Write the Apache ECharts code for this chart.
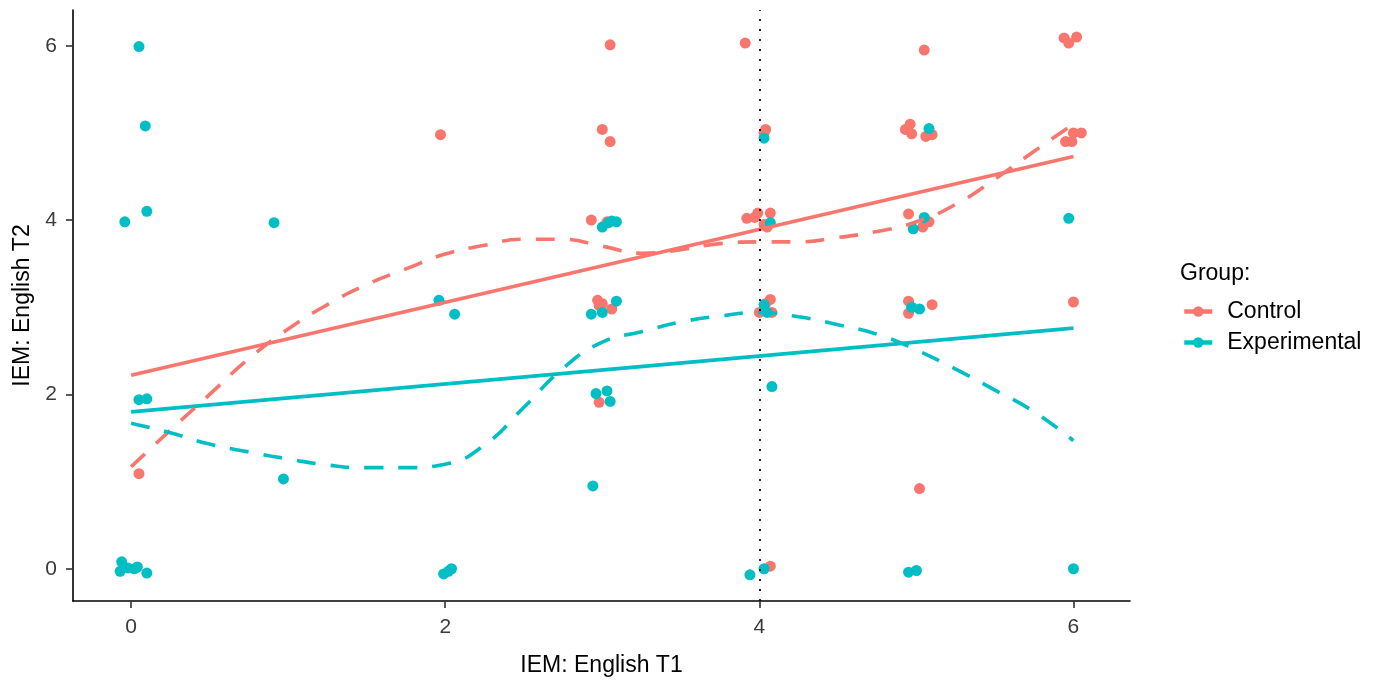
<!DOCTYPE html>
<html><head><meta charset="utf-8">
<script src="https://cdn.jsdelivr.net/npm/echarts@6/dist/echarts.min.js"></script>
<style>html,body{margin:0;padding:0;background:#fff}#chart{width:1376px;height:683px}</style>
</head><body><div id="chart"></div>
<script>
const groups = ['Control', 'Experimental'];
const groupColors = ['#F8766D', '#00BFC4'];
const xTicks = [0, 2, 4, 6];
const yTicks = [0, 2, 4, 6];
const xTitle = 'IEM: English T1';
const yTitle = 'IEM: English T2';
const legendTitle = 'Group:';
const referenceX = 4;

const controlPoints = [
  [0.05, 1.09], [1.97, 4.98], [3.05, 6.01], [3.00, 5.04], [3.05, 4.90],
  [2.93, 4.00], [3.03, 3.98], [2.97, 3.08], [3.00, 3.04], [3.06, 2.98],
  [2.98, 3.02], [2.98, 1.91], [3.91, 6.03], [4.04, 5.04], [4.03, 5.00],
  [3.92, 4.02], [3.99, 4.08], [4.07, 4.08], [4.03, 3.95], [4.05, 3.92],
  [3.97, 4.03], [4.07, 3.09], [4.04, 3.04], [4.00, 2.94], [4.08, 2.94],
  [4.07, 0.03], [5.05, 5.95], [4.93, 5.04], [4.96, 5.10], [4.97, 4.99],
  [5.06, 4.96], [5.10, 4.98], [4.95, 4.07], [5.08, 3.98], [5.04, 3.92],
  [4.95, 3.07], [4.95, 2.93], [5.10, 3.03], [5.02, 0.92], [5.94, 6.09],
  [5.97, 6.03], [6.02, 6.10], [5.95, 4.90], [5.99, 4.90], [6.00, 5.00],
  [6.05, 5.00], [6.00, 3.06]
];
const experimentalPoints = [
  [0.05, 5.99], [0.09, 5.08], [0.10, 4.10], [-0.04, 3.98], [0.91, 3.97],
  [0.05, 1.94], [0.10, 1.95], [0.97, 1.03], [-0.06, 0.08], [-0.07, -0.03],
  [-0.02, 0.01], [0.04, 0.02], [0.10, -0.05], [0.02, 0.00], [1.96, 3.08],
  [2.06, 2.92], [1.99, -0.06], [2.02, -0.03], [2.04, 0.00], [2.94, 0.95],
  [3.00, 3.92], [3.04, 3.97], [3.06, 3.99], [3.09, 3.98], [3.09, 3.07],
  [2.93, 2.92], [3.00, 2.94], [2.96, 2.01], [3.03, 2.04], [3.05, 1.92],
  [4.03, 4.94], [4.07, 3.97], [4.03, 3.03], [4.05, 2.94], [4.08, 2.09],
  [3.94, -0.07], [4.03, 0.00], [5.08, 5.05], [5.05, 4.03], [4.98, 3.90],
  [4.97, 3.00], [5.02, 2.98], [4.95, -0.04], [5.00, -0.02], [5.97, 4.02],
  [6.00, 0.00]
];

const fitX = [0, 6];
const controlFitY = [2.22, 4.73];
const experimentalFitY = [1.80, 2.76];

const smoothX = [0, 0.25, 0.5, 0.75, 1, 1.25, 1.5, 1.75, 2, 2.25, 2.5, 2.75, 3,
  3.25, 3.5, 3.75, 4, 4.25, 4.5, 4.75, 5, 5.25, 5.5, 5.75, 6];
const controlSmoothY = [1.17, 1.59, 2.00, 2.41, 2.75, 3.03, 3.26, 3.44, 3.61, 3.71,
  3.78, 3.78, 3.70, 3.62, 3.66, 3.73, 3.75, 3.75, 3.80, 3.87, 3.98, 4.18, 4.47, 4.79, 5.10];
const experimentalSmoothY = [1.67, 1.56, 1.43, 1.34, 1.26, 1.19, 1.16, 1.16, 1.20, 1.42,
  1.85, 2.30, 2.60, 2.72, 2.83, 2.90, 2.94, 2.89, 2.80, 2.69, 2.51, 2.29, 2.05, 1.80, 1.47];

const FONT = 'Liberation Sans, Arial, Helvetica, sans-serif';
const zip = (xs, ys) => xs.map((x, i) => [x, ys[i]]);

const fitYs = [controlFitY, experimentalFitY];
const smoothYs = [controlSmoothY, experimentalSmoothY];
const pointSets = [controlPoints, experimentalPoints];

const series = [];
groups.forEach((g, i) => {
  series.push({
    name: g, type: 'line', data: zip(fitX, fitYs[i]),
    showSymbol: false, symbol: 'circle', symbolSize: 10,
    lineStyle: { color: groupColors[i], width: 3.6, type: 'solid' },
    itemStyle: { color: groupColors[i], borderWidth: 0 },
    z: 3, silent: true
  });
});
groups.forEach((g, i) => {
  series.push({
    name: g + ' points', type: 'scatter', data: pointSets[i], symbolSize: 11,
    itemStyle: { color: groupColors[i], opacity: 1 }, z: 2
  });
  series.push({
    name: g + ' smooth', type: 'line', data: zip(smoothX, smoothYs[i]), smooth: true,
    showSymbol: false, lineStyle: { color: groupColors[i], width: 3.6, type: [19, 15] },
    itemStyle: { color: groupColors[i] }, z: 3, silent: true
  });
});
series.push({
  type: 'line', data: [], silent: true,
  markLine: {
    silent: true, symbol: 'none', animation: false,
    label: { show: false },
    lineStyle: { color: '#000', width: 1.7, type: [2, 8] },
    data: [{ xAxis: referenceX }]
  }, z: 4
});

const chart = echarts.init(document.getElementById('chart'));
chart.setOption({
  animation: false,
  backgroundColor: '#fff',
  textStyle: { fontFamily: FONT },
  title: {
    text: legendTitle, left: 1175, top: 257,
    textStyle: { fontFamily: FONT, fontSize: 23, fontWeight: 'normal', color: '#000' }
  },
  legend: {
    data: groups, orient: 'vertical', left: 1177, top: 295,
    itemWidth: 28, itemHeight: 13, itemGap: 8,
    lineStyle: { width: 4.5, type: 'solid' },
    itemStyle: { borderWidth: 0 },
    textStyle: { fontFamily: FONT, fontSize: 23, color: '#000', padding: [0, 0, 0, 10] }
  },
  grid: { left: 73, right: 246, top: 10, bottom: 82, containLabel: false },
  xAxis: {
    type: 'value', min: -0.37, max: 6.36,
    name: xTitle, nameLocation: 'middle', nameGap: 53,
    nameTextStyle: { fontFamily: FONT, fontSize: 23, color: '#000' },
    axisLine: { show: true, onZero: false, lineStyle: { color: '#000', width: 1.6 } },
    axisTick: { show: true, length: 7, customValues: xTicks, lineStyle: { color: '#333', width: 1.6 } },
    axisLabel: { customValues: xTicks, margin: 16, fontFamily: FONT, fontSize: 21, color: '#3a3a3a' },
    splitLine: { show: false }
  },
  yAxis: {
    type: 'value', min: -0.37, max: 6.41,
    name: yTitle, nameLocation: 'middle', nameGap: 35, nameRotate: 90,
    nameTextStyle: { fontFamily: FONT, fontSize: 23, color: '#000' },
    axisLine: { show: true, onZero: false, lineStyle: { color: '#000', width: 1.6 } },
    axisTick: { show: true, length: 7, customValues: yTicks, lineStyle: { color: '#333', width: 1.6 } },
    axisLabel: { customValues: yTicks, margin: 16, fontFamily: FONT, fontSize: 21, color: '#3a3a3a' },
    splitLine: { show: false }
  },
  series: series
});
</script></body></html>
